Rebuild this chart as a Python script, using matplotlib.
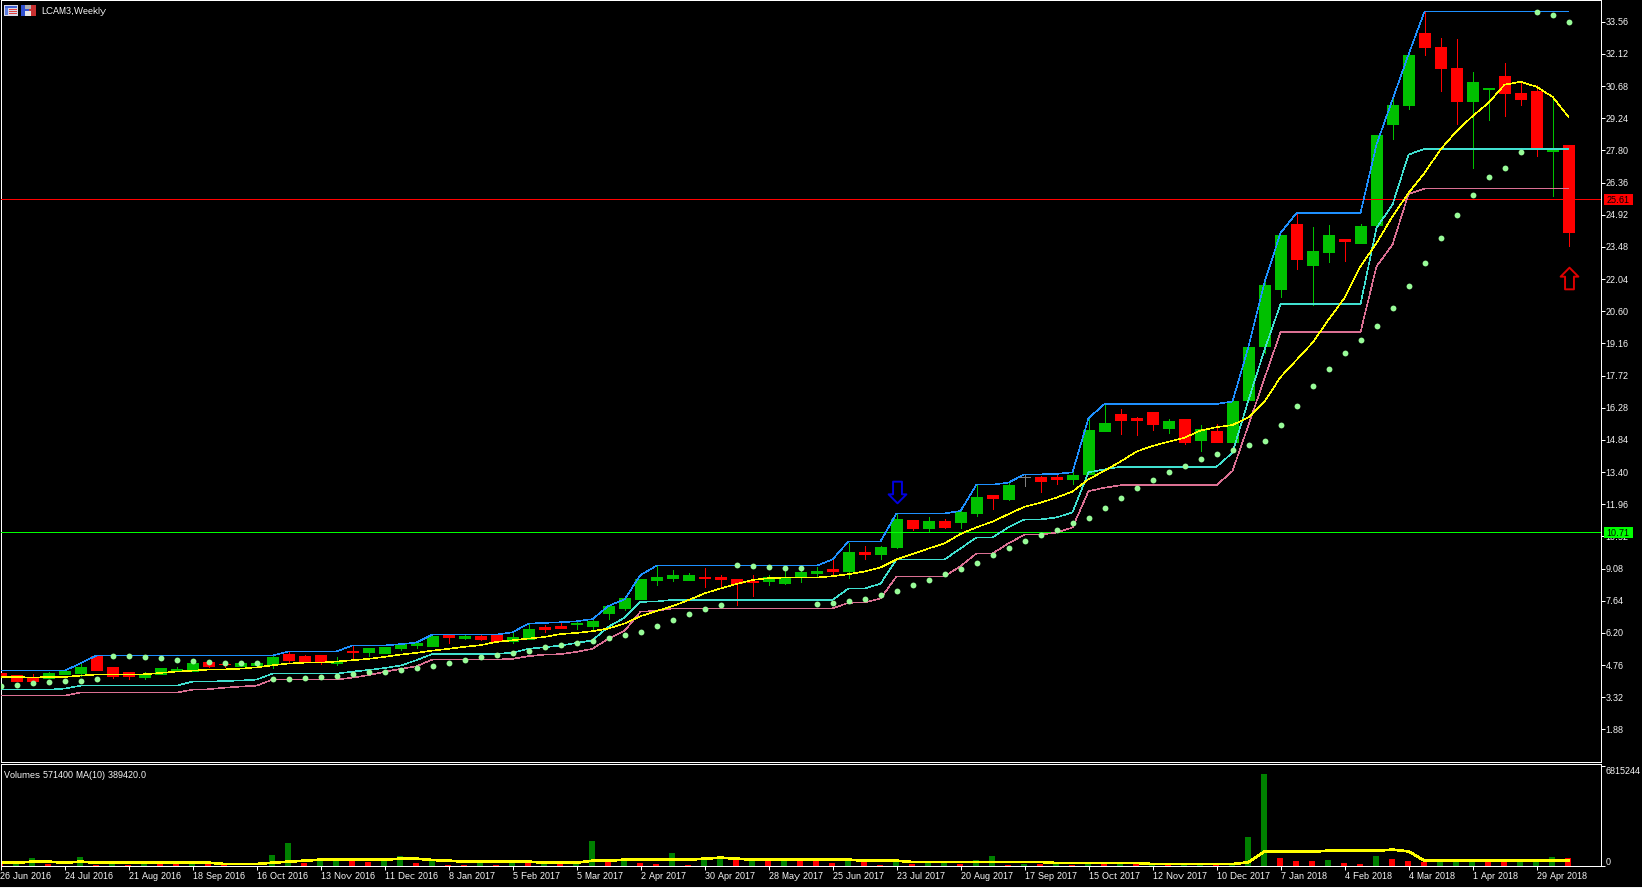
"""LCAM3 weekly candles with channel, MA, SAR and volume pane (MT4 look)."""
import matplotlib
matplotlib.use("Agg")
import matplotlib.pyplot as plt
import numpy as np
from matplotlib.markers import MarkerStyle
from matplotlib.patches import Rectangle
from matplotlib.path import Path

W, H = 1642, 888

opens = [4.40, 4.31, 4.19, 4.20, 4.35, 4.40, 5.19, 4.66, 4.44, 4.22,
         4.38, 4.56, 4.51, 4.89, 4.83, 4.71, 4.75, 4.80, 5.25, 5.16,
         5.20, 4.84, 5.40, 5.34, 5.29, 5.52, 5.65, 5.61, 6.10, 5.96,
         6.05, 6.10, 5.83, 5.92, 6.46, 6.52, 6.59, 6.50, 7.09, 7.31,
         7.71, 8.56, 8.65, 8.56, 8.72, 8.70, 8.61, 8.54, 8.52, 8.43,
         8.74, 8.88, 9.06, 8.97, 9.82, 9.73, 10.04, 11.25, 10.90, 11.21,
         11.16, 11.57, 12.37, 12.20, 13.18, 13.18, 13.18, 13.09, 13.31, 15.24,
         16.00, 15.82, 16.09, 15.38, 15.78, 14.84, 15.24, 14.75, 16.63, 19.05,
         21.61, 24.52, 22.68, 23.27, 23.85, 23.67, 24.48, 28.96, 29.85, 33.04,
         32.45, 31.47, 29.99, 30.53, 31.11, 30.39, 30.48, 27.79, 28.02]
closes = [4.25, 4.04, 4.04, 4.40, 4.48, 4.66, 4.53, 4.29, 4.29, 4.38,
          4.62, 4.60, 4.84, 4.71, 4.80, 4.84, 4.84, 5.11, 4.98, 4.93,
          4.93, 4.89, 5.36, 5.52, 5.56, 5.70, 5.74, 6.05, 6.01, 6.05,
          5.92, 5.83, 6.01, 6.37, 6.37, 6.41, 6.63, 6.73, 7.40, 7.76,
          8.61, 8.70, 8.79, 8.79, 8.68, 8.61, 8.43, 8.50, 8.70, 8.70,
          8.92, 8.97, 8.97, 9.82, 9.73, 10.04, 11.30, 10.90, 11.21, 10.94,
          11.61, 12.29, 12.24, 12.82, 13.18, 13.00, 13.09, 13.27, 15.29, 15.60,
          15.73, 15.73, 15.55, 15.69, 14.75, 15.33, 14.75, 16.59, 19.01, 21.79,
          24.03, 22.95, 23.31, 24.03, 23.76, 24.43, 28.51, 29.81, 32.09, 32.41,
          31.47, 29.99, 30.88, 30.60, 30.39, 30.08, 27.97, 27.84, 24.16]
highs = [4.40, 4.31, 4.35, 4.46, 4.48, 4.83, 5.19, 4.66, 4.44, 4.44,
         4.62, 4.68, 4.84, 4.98, 4.96, 4.92, 4.96, 5.20, 5.34, 5.20,
         5.20, 5.11, 5.61, 5.52, 5.56, 5.70, 5.78, 6.05, 6.10, 6.11,
         6.11, 6.10, 6.25, 6.59, 6.55, 6.70, 6.70, 6.83, 7.40, 7.76,
         8.61, 9.19, 9.01, 8.88, 9.10, 8.79, 8.61, 8.79, 8.79, 8.98,
         9.19, 9.15, 9.46, 10.22, 10.09, 10.09, 11.52, 11.25, 11.39, 11.30,
         11.66, 12.82, 12.37, 12.96, 13.32, 13.23, 13.27, 13.41, 15.76, 16.45,
         16.23, 15.87, 16.09, 15.78, 15.78, 15.51, 15.55, 16.59, 19.01, 21.89,
         24.03, 25.00, 24.39, 24.48, 23.85, 24.52, 28.51, 30.30, 32.09, 34.01,
         32.81, 32.77, 31.33, 30.60, 31.69, 30.84, 30.71, 30.21, 28.02]
lows = [4.25, 4.04, 4.04, 4.20, 4.35, 4.29, 4.53, 4.17, 4.13, 4.13,
        4.38, 4.48, 4.51, 4.66, 4.66, 4.71, 4.66, 4.62, 4.89, 4.89,
        4.83, 4.75, 5.07, 5.16, 5.29, 5.43, 5.52, 5.61, 5.74, 5.92,
        5.87, 5.83, 5.74, 5.92, 6.23, 6.41, 6.37, 6.37, 6.82, 7.22,
        7.71, 8.34, 8.52, 8.56, 8.25, 8.25, 7.44, 7.85, 8.34, 8.39,
        8.48, 8.70, 8.74, 8.65, 9.51, 9.51, 10.00, 10.81, 10.76, 10.90,
        10.90, 11.43, 11.75, 12.15, 12.78, 12.51, 12.87, 12.87, 13.31, 15.24,
        15.11, 15.06, 15.29, 15.15, 14.66, 14.34, 14.75, 14.75, 16.63, 18.74,
        21.25, 22.50, 20.89, 22.82, 22.86, 23.67, 24.48, 28.29, 29.67, 32.05,
        30.48, 28.96, 26.99, 29.14, 29.36, 29.85, 27.57, 25.78, 23.53]

channel_high = [4.51, 4.51, 4.51, 4.51, 4.51, 4.84, 5.19, 5.19, 5.19, 5.19,
                5.19, 5.19, 5.19, 5.19, 5.19, 5.19, 5.19, 5.19, 5.37, 5.37,
                5.37, 5.37, 5.64, 5.64, 5.64, 5.70, 5.77, 6.13, 6.13, 6.13,
                6.13, 6.13, 6.23, 6.62, 6.65, 6.68, 6.72, 6.82, 7.41, 7.70,
                8.79, 9.21, 9.21, 9.21, 9.21, 9.21, 9.21, 9.21, 9.21, 9.21,
                9.21, 9.21, 9.49, 10.30, 10.30, 10.30, 11.55, 11.55, 11.55, 11.55,
                11.66, 12.84, 12.84, 12.93, 13.30, 13.30, 13.32, 13.39, 15.81, 16.45,
                16.45, 16.45, 16.45, 16.45, 16.45, 16.45, 16.45, 16.56, 19.01, 21.89,
                24.10, 25.00, 25.00, 25.00, 25.00, 25.00, 28.06, 30.08, 32.09, 34.01,
                34.01, 34.01, 34.01, 34.01, 34.01, 34.01, 34.01, 34.01, 34.01]
channel_mid = [3.66, 3.66, 3.66, 3.66, 3.71, 3.84, 3.84, 3.84, 3.84, 3.84,
               3.84, 3.84, 4.02, 4.02, 4.05, 4.07, 4.11, 4.38, 4.38, 4.38,
               4.38, 4.38, 4.47, 4.54, 4.63, 4.74, 4.98, 5.26, 5.26, 5.26,
               5.26, 5.26, 5.32, 5.49, 5.56, 5.64, 5.75, 5.87, 6.48, 6.88,
               7.59, 7.61, 7.68, 7.68, 7.68, 7.68, 7.68, 7.68, 7.68, 7.68,
               7.68, 7.68, 7.68, 8.19, 8.19, 8.40, 9.49, 9.49, 9.49, 9.49,
               9.98, 10.48, 10.48, 10.93, 11.28, 11.28, 11.37, 11.60, 13.39, 13.52,
               13.64, 13.64, 13.64, 13.64, 13.64, 13.64, 13.64, 14.27, 16.63, 18.87,
               20.92, 20.92, 20.92, 20.92, 20.92, 20.92, 24.33, 25.37, 27.61, 27.87,
               27.87, 27.87, 27.87, 27.87, 27.87, 27.87, 27.87, 27.87, 27.87]
channel_low = [3.39, 3.39, 3.39, 3.39, 3.39, 3.53, 3.53, 3.53, 3.53, 3.53,
               3.53, 3.53, 3.66, 3.68, 3.75, 3.80, 3.84, 4.11, 4.11, 4.11,
               4.11, 4.11, 4.20, 4.31, 4.46, 4.59, 4.71, 5.01, 5.01, 5.01,
               5.01, 5.01, 5.04, 5.16, 5.23, 5.25, 5.35, 5.49, 5.95, 6.29,
               7.15, 7.19, 7.30, 7.30, 7.30, 7.30, 7.30, 7.30, 7.30, 7.30,
               7.30, 7.30, 7.30, 7.55, 7.56, 7.74, 8.73, 8.73, 8.73, 8.73,
               9.19, 9.76, 9.76, 10.21, 10.60, 10.60, 10.69, 10.92, 12.55, 12.70,
               12.81, 12.81, 12.81, 12.81, 12.81, 12.81, 12.81, 13.45, 15.51, 17.60,
               19.66, 19.66, 19.66, 19.66, 19.66, 19.66, 22.61, 23.58, 25.85, 26.09,
               26.09, 26.09, 26.09, 26.09, 26.09, 26.09, 26.09, 26.09, 26.09]
ma_price = [4.23, 4.23, 4.20, 4.23, 4.23, 4.29, 4.34, 4.34, 4.34, 4.35,
            4.41, 4.47, 4.51, 4.56, 4.57, 4.60, 4.66, 4.75, 4.83, 4.87,
            4.87, 4.92, 4.98, 5.04, 5.13, 5.23, 5.31, 5.41, 5.49, 5.58,
            5.65, 5.80, 5.87, 5.95, 6.02, 6.15, 6.20, 6.28, 6.40, 6.62,
            6.95, 7.18, 7.40, 7.67, 7.97, 8.19, 8.39, 8.57, 8.65, 8.68,
            8.68, 8.68, 8.74, 8.83, 8.95, 9.13, 9.49, 9.73, 9.98, 10.21,
            10.63, 10.93, 11.18, 11.52, 11.85, 12.03, 12.26, 12.53, 13.08, 13.46,
            13.87, 14.32, 14.57, 14.76, 14.94, 15.26, 15.41, 15.51, 15.85, 16.56,
            17.65, 18.42, 19.19, 20.22, 21.19, 22.61, 23.65, 24.85, 25.89, 26.79,
            27.84, 28.66, 29.33, 29.93, 30.74, 30.87, 30.65, 30.20, 29.30]
sar = [3.83, 3.89, 3.98, 4.02, 4.07, 4.07, 4.16, 5.19, 5.19, 5.14,
       5.10, 5.01, 4.96, 4.92, 4.87, 4.86, 4.86, 4.16, 4.16, 4.20,
       4.25, 4.29, 4.34, 4.43, 4.47, 4.56, 4.65, 4.74, 4.87, 5.01,
       5.14, 5.23, 5.32, 5.41, 5.55, 5.64, 5.77, 5.86, 5.98, 6.09,
       6.26, 6.53, 6.80, 7.03, 7.25, 7.43, 9.22, 9.18, 9.13, 9.09,
       9.09, 7.48, 7.52, 7.61, 7.74, 7.92, 8.06, 8.33, 8.59, 8.82,
       9.04, 9.31, 9.67, 9.98, 10.30, 10.57, 10.83, 11.10, 11.33, 11.78,
       12.22, 12.67, 13.03, 13.39, 13.66, 13.97, 14.20, 14.37, 14.60, 14.78,
       15.50, 16.35, 17.24, 18.01, 18.72, 19.32, 19.95, 20.76, 21.74, 22.76,
       23.88, 24.91, 25.81, 26.61, 27.02, 27.73, 34.01, 33.87, 33.56]

volumes = [159000, 204000, 545000, 136000, 30000, 613000, 68000, 182000, 68000, 182000,
           182000, 182000, 341000, 182000, 40000, 30000, 30000, 750000, 1567000, 204000,
           341000, 341000, 341000, 273000, 341000, 682000, 204000, 409000, 68000, 68000,
           204000, 68000, 409000, 204000, 204000, 136000, 182000, 1704000, 341000, 477000,
           204000, 136000, 886000, 68000, 545000, 682000, 409000, 409000, 409000, 409000,
           409000, 341000, 204000, 341000, 273000, 68000, 273000, 136000, 227000, 227000,
           136000, 409000, 682000, 68000, 136000, 136000, 136000, 68000, 182000, 182000,
           182000, 182000, 40000, 68000, 40000, 40000, 68000, 68000, 1976000, 6270000,
           545000, 341000, 341000, 409000, 204000, 136000, 682000, 477000, 341000, 273000,
           273000, 273000, 273000, 273000, 273000, 273000, 273000, 613000, 571400]
vol_colors = list("rggrggrgrg" "rrgrrggggr" "ggrrggrgrr" "grgrgrggrg" "rrgrggrgrg"
                  "rrrgrrgrgg" "rggrgrgrgr" "grgrggrggg" "rrrgrrgrrr" "gggrrgggr")
vol_ma = [227000, 227000, 295000, 295000, 227000, 295000, 227000, 227000, 227000, 227000,
          227000, 227000, 227000, 227000, 136000, 136000, 136000, 227000, 295000, 363000,
          432000, 432000, 432000, 432000, 432000, 500000, 500000, 409000, 363000, 295000,
          295000, 295000, 295000, 295000, 227000, 227000, 227000, 363000, 363000, 432000,
          432000, 432000, 432000, 432000, 500000, 568000, 500000, 432000, 432000, 432000,
          432000, 432000, 432000, 432000, 363000, 363000, 363000, 273000, 273000, 273000,
          273000, 273000, 273000, 273000, 273000, 273000, 204000, 204000, 204000, 204000,
          204000, 204000, 136000, 136000, 136000, 136000, 136000, 136000, 250000, 977000,
          977000, 977000, 977000, 1045000, 1045000, 1045000, 1045000, 1113000, 1000000, 363000,
          363000, 363000, 363000, 363000, 363000, 363000, 363000, 363000, 389420]

price_ticks = [33.56, 32.12, 30.68, 29.24, 27.80, 26.36, 24.92, 23.48, 22.04, 20.60, 19.16, 17.72,
               16.28, 14.84, 13.40, 11.96, 10.52, 9.08, 7.64, 6.20, 4.76, 3.32, 1.88]
date_labels = ["26 Jun 2016", "24 Jul 2016", "21 Aug 2016", "18 Sep 2016", "16 Oct 2016",
               "13 Nov 2016", "11 Dec 2016", "8 Jan 2017", "5 Feb 2017", "5 Mar 2017",
               "2 Apr 2017", "30 Apr 2017", "28 May 2017", "25 Jun 2017", "23 Jul 2017",
               "20 Aug 2017", "17 Sep 2017", "15 Oct 2017", "12 Nov 2017", "10 Dec 2017",
               "7 Jan 2018", "4 Feb 2018", "4 Mar 2018", "1 Apr 2018", "29 Apr 2018"]
resistance = 25.61
support = 10.71
vol_top = 6815244
down_arrow_bar, down_arrow_price = 56, 12.51
up_arrow_bar, up_arrow_price = 98, 22.09

plt.rcParams.update({
    "font.family": "Liberation Sans",
    "font.size": 6.5,
    "text.color": "white",
    "text.hinting": "native",
    "text.hinting_factor": 1,
    "axes.facecolor": "black",
    "figure.facecolor": "black",
    "axes.edgecolor": "white",
    "axes.linewidth": 0.72,
    "xtick.color": "white",
    "ytick.color": "white",
})
PX = 0.72  # one pixel at dpi 100, in points
THIN = 0.4  # aliased lines come out about one pixel wide at this width


def add_px_rect(fig, x, y, w, h, color):
    fig.add_artist(Rectangle((x / W, 1 - (y + h) / H), w / W, h / H, transform=fig.transFigure,
                             facecolor=color, edgecolor="none", antialiased=False))


def arrow_marker(sign):
    # sign=-1 points down, 1 points up
    verts = [(-0.41, -1), (0.41, -1), (0.41, 0.17), (0.82, 0.17), (0, 1), (-0.82, 0.17), (-0.41, 0.17), (-0.41, -1)]
    verts = [(vx, sign * vy) for vx, vy in verts]
    return MarkerStyle(Path(verts, closed=True))


fig = plt.figure(figsize=(W / 100, H / 100), dpi=100)
left, right = 0.5 / W, 1600.5 / W
ax = fig.add_axes([left, 1 - 762 / H, right - left, 761.5 / H])
ax_vol = fig.add_axes([left, 1 - 866 / H, right - left, 102 / H], sharex=ax)

idx = np.arange(len(opens))
o, c, h, l = map(np.array, (opens, closes, highs, lows))
body_colors = ["#00c000" if cl > op else "#ff0000" if cl < op else "#808080" for op, cl in zip(o, c)]

ax.vlines(idx, l, h, colors=body_colors, linewidth=0.5, antialiased=False, zorder=2)
ax.bar(idx, c - o, bottom=o, width=10.5 / 16, color=body_colors, edgecolor=body_colors,
       linewidth=0.5, antialiased=False, zorder=3)

ax.axhline(resistance, color="#ff0000", lw=0.5, antialiased=False, zorder=4)
ax.axhline(support, color="#00ff00", lw=0.5, antialiased=False, zorder=4)

ax.plot(idx, channel_low, color="#db7093", lw=THIN, antialiased=False, zorder=5)
ax.plot(idx, channel_mid, color="#40e0d0", lw=THIN, antialiased=False, zorder=5)
ax.plot(idx, channel_high, color="#1e90ff", lw=THIN, antialiased=False, zorder=5)
ax.plot(idx, ma_price, color="#ffff00", lw=THIN, antialiased=False, zorder=5)
ax.plot(idx, sar, ls="none", marker="o", ms=4.2, mfc="#98fb98", mec="none", zorder=6)

ax.plot(down_arrow_bar, down_arrow_price, marker=arrow_marker(-1), ms=15.6, mfc="none",
        mec="#0000e0", mew=1.4, zorder=7)
ax.plot(up_arrow_bar, up_arrow_price, marker=arrow_marker(1), ms=15.6, mfc="none",
        mec="#e00000", mew=1.4, zorder=7)

ax.set_xlim(0, 100)
ax.set_ylim(0.423, 34.51)
ax.set_yticks(price_ticks)
ax.set_yticklabels([f"{t:.2f}" for t in price_ticks])
ax.yaxis.tick_right()
ax.tick_params(axis="y", length=2.9, width=PX, pad=0.8)
ax.tick_params(axis="x", bottom=False, labelbottom=False)
ax.margins(0)

# price tags on the axis
for price, color in ((resistance, "#ff0000"), (support, "#00ff00")):
    ax.add_patch(Rectangle((1 + 3 / 1600, price - 0.25), 29 / 1600, 0.50, transform=ax.get_yaxis_transform(),
                           facecolor=color, edgecolor="none", clip_on=False, zorder=8, antialiased=False))
    ax.text(1 + 17.5 / 1600, price, f"{price:.2f}", transform=ax.get_yaxis_transform(), color="black",
            ha="center", va="center_baseline", zorder=9)

bar_colors = ["#008000" if vc == "g" else "#ff0000" for vc in vol_colors]
ax_vol.bar(idx - 1 / 16, volumes, width=6 / 16, color=bar_colors, antialiased=False)
ax_vol.plot(idx, vol_ma, color="#ffff00", lw=1.2, antialiased=False)
ax_vol.set_ylim(0, vol_top * 1.02)
ax_vol.yaxis.tick_right()
ax_vol.set_yticks([vol_top, 0])
ax_vol.set_yticklabels([])
ax_vol.tick_params(axis="y", length=2.9, width=PX)
ax_vol.set_xticks(idx[::4])
ax_vol.set_xticklabels(date_labels, ha="left")
ax_vol.tick_params(axis="x", length=2.9, width=PX, pad=1.4)
for tick_value, text, dy in ((vol_top, "6815244", -4), (0, "0", 5)):
    ax_vol.annotate(text, xy=(1, tick_value), xycoords=ax_vol.get_yaxis_transform(), xytext=(5, dy),
                    textcoords="offset pixels", ha="left", va="center_baseline", annotation_clip=False)

fig.text(4 / W, 1 - 774 / H, "Volumes 571400 MA(10) 389420.0", ha="left", va="center_baseline")
fig.text(41.5 / W, 1 - 10.5 / H, "LCAM3,Weekly", ha="left", va="center_baseline")

# white strip along the bottom edge
add_px_rect(fig, 0, 887, W, 1, "#f0f0f0")

# toolbar icons, top-left
add_px_rect(fig, 4, 5, 14, 11, "#d8d8e8")
add_px_rect(fig, 5, 6, 12, 2, "#4060d0")
add_px_rect(fig, 5, 8, 3, 7, "#6080e0")
for row in (9, 11, 13):
    add_px_rect(fig, 9, row, 8, 1, "#e04040")
add_px_rect(fig, 21, 5, 8, 11, "#3050d0")
add_px_rect(fig, 29, 5, 7, 11, "#c83030")
add_px_rect(fig, 25, 5, 6, 4, "#b0b0b0")
add_px_rect(fig, 25, 11, 6, 5, "#e8e8e8")

fig.savefig("out.png", dpi=100, facecolor="black")
